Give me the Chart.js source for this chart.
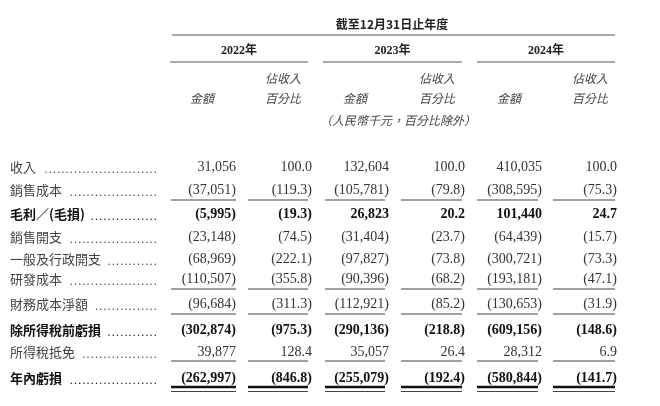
<!DOCTYPE html>
<html><head><meta charset="utf-8">
<script src="https://cdn.jsdelivr.net/npm/chart.js@4/dist/chart.umd.min.js"></script>
<style>html,body{margin:0;padding:0;background:#fff}#wrap{width:660px;height:406px}</style>
</head><body><div id="wrap"><canvas id="c" width="660" height="406"></canvas></div>
<script>
const title = "截至12月31日止年度";
const years = ["2022年", "2023年", "2024年"];
const subAmt = "金額";
const subPct1 = "佔收入";
const subPct2 = "百分比";
const unitNote = "（人民幣千元，百分比除外）";
const rowLabels = ["收入","銷售成本","毛利／(毛損)","銷售開支","一般及行政開支","研發成本","財務成本淨額","除所得稅前虧損","所得稅抵免","年內虧損"];
const boldRows = [false,false,true,false,false,false,false,true,false,true];
const amt2022 = ["31,056","(37,051)","(5,995)","(23,148)","(68,969)","(110,507)","(96,684)","(302,874)","39,877","(262,997)"];
const pct2022 = ["100.0","(119.3)","(19.3)","(74.5)","(222.1)","(355.8)","(311.3)","(975.3)","128.4","(846.8)"];
const amt2023 = ["132,604","(105,781)","26,823","(31,404)","(97,827)","(90,396)","(112,921)","(290,136)","35,057","(255,079)"];
const pct2023 = ["100.0","(79.8)","20.2","(23.7)","(73.8)","(68.2)","(85.2)","(218.8)","26.4","(192.4)"];
const amt2024 = ["410,035","(308,595)","101,440","(64,439)","(300,721)","(193,181)","(130,653)","(609,156)","28,312","(580,844)"];
const pct2024 = ["100.0","(75.3)","24.7","(15.7)","(73.3)","(47.1)","(31.9)","(148.6)","6.9","(141.7)"];

// layout (pixel-space values on a 660x406 linear scale)
const L = {
  rowY:[167,190,214,237,259,279,304,330,352,378],
  colRight:[236,312,389,465,542,617],
  segs:[[171,236],[248,308],[325,385],[401,462],[477,538],[553,615]],
  groups:[[170,308],[323,462],[477,615]],
  lineRows:[200,289,314,361],
  labelX:10, dotsEnd:157
};
const cols=[amt2022,pct2022,amt2023,pct2023,amt2024,pct2024];

const tablePlugin={id:'table',afterDraw(ch){
  const c=ch.ctx,xs=ch.scales.x,ys=ch.scales.y;
  const X=v=>xs.getPixelForValue(v),Y=v=>ys.getPixelForValue(v);
  const serif="'Liberation Serif','Noto Sans CJK TC',serif";
  const cjk="'Noto Sans CJK TC',sans-serif";
  c.save();c.textBaseline='middle';
  // header
  c.fillStyle='#222';c.font="bold 12px "+cjk;c.textAlign='center';
  c.fillText(title,X(392),Y(24));
  c.strokeStyle='#555';c.lineWidth=1.2;
  c.beginPath();c.moveTo(X(172),Y(35));c.lineTo(X(615),Y(35));c.stroke();
  years.forEach((yr,i)=>{const g=L.groups[i];
    c.font="bold 12px "+serif;c.fillText(yr,X((g[0]+g[1])/2),Y(51));
    c.beginPath();c.moveTo(X(g[0]),Y(62));c.lineTo(X(g[1]),Y(62));c.stroke();
    c.font="italic 12px "+cjk;c.fillStyle='#444';
    c.fillText(subAmt,X(g[0]+32),Y(98));
    c.fillText(subPct1,X(g[1]-25),Y(78));
    c.fillText(subPct2,X(g[1]-25),Y(98));
    c.fillStyle='#222';
  });
  c.font="italic 12px "+cjk;c.fillStyle='#444';c.fillText(unitNote,X(398),Y(120));
  // rows
  rowLabels.forEach((lab,r)=>{
    const y=Y(L.rowY[r]);
    c.textAlign='left';c.fillStyle=boldRows[r]?'#111':'#444';
    c.font=(boldRows[r]?"bold ":"")+"13px "+cjk;
    c.fillText(lab,X(L.labelX),y);
    const w=c.measureText(lab).width;
    c.font="12px "+serif;let dots='';
    const dw=c.measureText('.').width+1.2;
    const n=Math.floor((X(L.dotsEnd)-X(L.labelX)-w-4)/dw);
    for(let k=0;k<n;k++)c.fillText('.',X(L.dotsEnd)-(k+1)*dw+1,y+3);
    c.textAlign='right';c.fillStyle=boldRows[r]?'#111':'#333';
    c.font=(boldRows[r]?"bold ":"")+"14px "+serif;
    cols.forEach((arr,ci)=>c.fillText(arr[r],X(L.colRight[ci]),y));
  });
  // underline segments
  c.strokeStyle='#444';c.lineWidth=1.2;
  L.segs.forEach(s=>{
    L.lineRows.forEach(ly=>{c.beginPath();c.moveTo(X(s[0]),Y(ly));c.lineTo(X(s[1]),Y(ly));c.stroke();});
    c.lineWidth=2.6;c.strokeStyle='#111';c.beginPath();c.moveTo(X(s[0]),Y(387));c.lineTo(X(s[1]),Y(387));c.stroke();
    c.lineWidth=1.2;c.strokeStyle='#444';c.beginPath();c.moveTo(X(s[0]),Y(391.5));c.lineTo(X(s[1]),Y(391.5));c.stroke();
  });
  c.restore();
}};

// anchor points for each cell (invisible)
const pts=[];
cols.forEach((arr,ci)=>arr.forEach((v,r)=>pts.push({x:L.colRight[ci],y:L.rowY[r]})));

new Chart(document.getElementById('c'),{
  type:'scatter',
  data:{datasets:[{data:pts,pointRadius:0,showLine:false}]},
  options:{responsive:false,animation:false,devicePixelRatio:1,
    layout:{padding:0},
    plugins:{legend:{display:false},tooltip:{enabled:false}},
    scales:{x:{type:'linear',min:0,max:660,display:false},
            y:{type:'linear',min:0,max:406,reverse:true,display:false}}},
  plugins:[tablePlugin]
});
</script></body></html>
